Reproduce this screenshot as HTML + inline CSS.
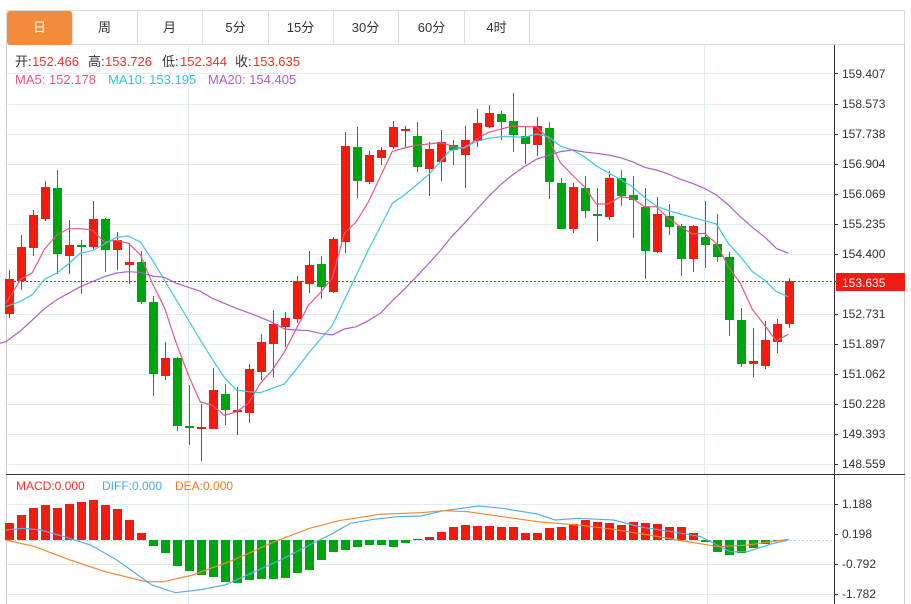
<!DOCTYPE html>
<html><head><meta charset="utf-8"><style>
body{margin:0;background:#fff;width:911px;height:604px;overflow:hidden;font-family:"Liberation Sans","Noto Sans CJK SC",sans-serif}
.tabs{position:absolute;left:6px;top:10px;height:35px;width:899px;border:1px solid #ddd;border-bottom:1px solid #ddd;box-sizing:border-box}
.tab{position:absolute;top:0;height:34px;width:65px;border-right:1px solid #ddd;text-align:center;line-height:34px;font-size:13px;color:#333}
</style></head><body>
<div class="tabs">
<div class="tab" style="left:0;background:#f28c3c;color:#fff;border-radius:3px">日</div>
<div class="tab" style="left:65px">周</div>
<div class="tab" style="left:130px">月</div>
<div class="tab" style="left:196px">5分</div>
<div class="tab" style="left:261px">15分</div>
<div class="tab" style="left:326px">30分</div>
<div class="tab" style="left:392px">60分</div>
<div class="tab" style="left:457px">4时</div>
</div>
<svg id="s" width="911" height="604" style="position:absolute;left:0;top:0" font-family="Liberation Sans, Noto Sans CJK SC, sans-serif">
<g stroke="#e3ecf2" stroke-width="1">
<line x1="6" x2="834" y1="73.5" y2="73.5"/><line x1="6" x2="834" y1="104.5" y2="104.5"/><line x1="6" x2="834" y1="134.5" y2="134.5"/><line x1="6" x2="834" y1="164.5" y2="164.5"/><line x1="6" x2="834" y1="194.5" y2="194.5"/><line x1="6" x2="834" y1="224.5" y2="224.5"/><line x1="6" x2="834" y1="254.5" y2="254.5"/><line x1="6" x2="834" y1="314.5" y2="314.5"/><line x1="6" x2="834" y1="344.5" y2="344.5"/><line x1="6" x2="834" y1="374.5" y2="374.5"/><line x1="6" x2="834" y1="404.5" y2="404.5"/><line x1="6" x2="834" y1="434.5" y2="434.5"/><line x1="6" x2="834" y1="464.5" y2="464.5"/>
<line x1="188.5" x2="188.5" y1="45" y2="474"/><line x1="704.5" x2="704.5" y1="45" y2="474"/>
<line x1="188.5" x2="188.5" y1="475" y2="604"/><line x1="707.5" x2="707.5" y1="475" y2="604"/>
<line x1="6" x2="834" y1="504.5" y2="504.5"/><line x1="6" x2="834" y1="564.5" y2="564.5"/><line x1="6" x2="834" y1="594.5" y2="594.5"/>
</g>
<line x1="6.5" x2="6.5" y1="45" y2="604" stroke="#ccc"/>
<line x1="904.5" x2="904.5" y1="45" y2="604" stroke="#ccc"/>
<line x1="834.5" x2="834.5" y1="45" y2="604" stroke="#333"/>
<line x1="6" x2="905" y1="474.5" y2="474.5" stroke="#333"/>
<g font-size="12" fill="#333">
<text x="842" y="78">159.407</text><text x="842" y="108">158.573</text><text x="842" y="138">157.738</text><text x="842" y="168">156.904</text><text x="842" y="198">156.069</text><text x="842" y="228">155.235</text><text x="842" y="258">154.400</text><text x="842" y="318">152.731</text><text x="842" y="348">151.897</text><text x="842" y="378">151.062</text><text x="842" y="408">150.228</text><text x="842" y="438">149.393</text><text x="842" y="468">148.559</text>
<text x="842" y="508">1.188</text><text x="842" y="538">0.198</text><text x="842" y="568">-0.792</text><text x="842" y="598">-1.782</text>
</g>
<g stroke="#333"><line x1="834" x2="838" y1="73.5" y2="73.5"/><line x1="834" x2="838" y1="104.5" y2="104.5"/><line x1="834" x2="838" y1="134.5" y2="134.5"/><line x1="834" x2="838" y1="164.5" y2="164.5"/><line x1="834" x2="838" y1="194.5" y2="194.5"/><line x1="834" x2="838" y1="224.5" y2="224.5"/><line x1="834" x2="838" y1="254.5" y2="254.5"/><line x1="834" x2="838" y1="314.5" y2="314.5"/><line x1="834" x2="838" y1="344.5" y2="344.5"/><line x1="834" x2="838" y1="374.5" y2="374.5"/><line x1="834" x2="838" y1="404.5" y2="404.5"/><line x1="834" x2="838" y1="434.5" y2="434.5"/><line x1="834" x2="838" y1="464.5" y2="464.5"/><line x1="834" x2="838" y1="504.5" y2="504.5"/><line x1="834" x2="838" y1="534.5" y2="534.5"/><line x1="834" x2="838" y1="564.5" y2="564.5"/><line x1="834" x2="838" y1="594.5" y2="594.5"/></g>
<g font-size="13">
<text y="66" fill="#333"><tspan x="15">开:</tspan><tspan x="32" fill="#f0302a">152.466</tspan><tspan x="88">高:</tspan><tspan x="105" fill="#f0302a">153.726</tspan><tspan x="162">低:</tspan><tspan x="180" fill="#f0302a">152.344</tspan><tspan x="235">收:</tspan><tspan x="253" fill="#f0302a">153.635</tspan></text>
<text y="84" fill="#e8577f"><tspan x="15">MA5: 152.178</tspan><tspan x="108" fill="#35c4dc">MA10: 153.195</tspan><tspan x="208" fill="#b05fc9">MA20: 154.405</tspan></text>
<text y="490" font-size="12" fill="#f0302a"><tspan x="16">MACD:0.000</tspan><tspan x="102" fill="#4aa8ec">DIFF:0.000</tspan><tspan x="175" fill="#f07a22">DEA:0.000</tspan></text>
</g>
<line x1="6" x2="834" y1="281.5" y2="281.5" stroke="#e02020" stroke-dasharray="2,2"/>
<line x1="6" x2="834" y1="540.5" y2="540.5" stroke="#a8d4f0" stroke-dasharray="2,2"/>
<line x1="834" x2="838" y1="281.5" y2="281.5" stroke="#333"/>
<rect x="836" y="273" width="69" height="18" fill="#ee1c14"/>
<text x="842" y="287" font-size="12" fill="#fff">153.635</text>
<g id="c"></g>
<g id="h"></g>
<g fill="none" stroke-width="1.2">
<g transform="translate(0,90) scale(0.33333)">
<polyline vector-effect="non-scaling-stroke" stroke="#e8577f" points="18,640 62,568 97,548 133,478 169,437 205,416 241,416 277,420 313,456 349,451 385,460 421,494 457,580 493,652 529,760 565,855 601,936 637,946 673,976 709,966 745,940 781,880 817,840 853,786 889,716 925,646 961,608 997,564 1033,430 1069,395 1105,336 1141,260 1177,184 1213,174 1249,166 1285,162 1321,158 1350,166"/>
<polyline vector-effect="non-scaling-stroke" stroke="#3cc8e0" points="18,650 62,634 97,614 133,568 169,550 205,522 241,489 277,482 313,462 349,442 385,438 421,456 457,510 493,570 529,630 565,690 601,750 637,808 673,862 709,900 745,905 781,908 817,895 853,882 889,838 925,790 961,748 997,706 1033,630 1069,555 1105,480 1141,410 1177,340 1213,315 1249,285 1285,255 1321,215 1350,182"/>
<polyline vector-effect="non-scaling-stroke" stroke="#b05fc9" points="0,760 18,755 62,722 97,690 133,656 169,630 205,610 241,590 277,575 313,560 349,549 385,545 421,547 457,558 493,562 529,580 565,592 601,604 637,625 673,640 709,655 745,668 781,682 817,697 853,717 889,720 925,722 961,730 997,735 1033,717 1069,710 1105,692 1141,670 1177,632 1213,598 1249,560 1285,522 1321,482 1350,446"/>
</g>
<g transform="translate(450,90) scale(0.33333)">
<polyline vector-effect="non-scaling-stroke" stroke="#e8577f" points="0,170 43,175 79,148 115,127 151,118 187,108 223,110 259,110 295,145 331,218 367,255 403,290 439,342 475,342 511,320 547,325 583,350 619,350 655,385 691,410 727,432 763,430 799,460 835,530 871,580 907,658 943,705 979,753 1015,733"/>
<polyline vector-effect="non-scaling-stroke" stroke="#3cc8e0" points="0,182 43,172 79,155 115,145 151,140 187,140 223,142 259,132 295,140 331,168 367,180 403,200 439,228 475,248 511,268 547,290 583,322 619,348 655,362 691,372 727,382 763,392 799,402 835,460 871,500 907,545 943,570 979,605 1015,620"/>
<polyline vector-effect="non-scaling-stroke" stroke="#b05fc9" points="0,445 43,400 79,360 115,320 151,285 187,255 223,230 259,208 295,196 331,185 367,180 403,186 439,190 475,195 511,203 547,215 583,232 619,240 655,252 691,268 727,280 763,295 799,315 835,345 871,380 907,412 943,440 979,475 1015,490"/>
</g>
<g transform="translate(0,470) scale(0.5841,0.33333)">
<polyline vector-effect="non-scaling-stroke" stroke="#5aaee8" points="10,180 40,175 70,180 110,200 155,225 200,270 260,345 300,368 340,360 385,345 430,310 480,270 530,225 570,190 600,160 640,148 680,140 720,138 760,122 820,108 860,115 920,132 950,150 990,145 1050,150 1100,172 1150,185 1200,200 1250,245 1280,245 1320,222 1350,210"/>
<polyline vector-effect="non-scaling-stroke" stroke="#f08a30" points="10,210 60,230 120,270 180,305 250,335 280,335 330,315 400,270 470,215 530,175 580,152 650,133 720,128 760,122 800,125 860,140 920,155 990,165 1050,178 1100,192 1160,210 1230,230 1280,225 1350,208"/>
</g>
</g>
</svg>
<script>
var d=[["r",279,314,270,318],["r",247,281,235,290],["r",215,248,210,256],["r",187,219,181,221],["g",188,254,170,274],["r",245,256,220,274],["g",245,246,240,294],["r",219,247,201,249],["g",219,250,218,272],["r",240,250,232,270],["r",262,265,243,284],["g",262,302,251,304],["g",302,374,296,396],["r",358,376,342,380],["g",358,426,357,431],["g",426,428,385,445],["r",427,429,404,461],["r",390,429,368,429],["g",394,410,384,425],["r",410,412,387,435],["r",369,413,364,423],["r",342,372,334,380],["r",324,344,310,377],["r",318,327,312,347],["r",281,319,276,323],["r",265,284,251,293],["g",264,287,256,299],["r",239,292,237,293],["r",146,242,132,253],["g",147,181,127,198],["r",155,182,151,184],["r",150,158,147,165],["r",127,147,121,149],["r",129,131,126,148],["g",136,167,122,172],["r",149,169,142,196],["r",142,162,130,181],["g",145,150,140,165],["r",140,155,126,188],["r",123,141,109,147],["r",113,127,105,128],["g",114,122,111,140],["g",121,135,93,152],["g",136,144,127,164],["r",126,145,117,156],["g",128,182,122,199],["g",183,229,178,229],["r",187,229,183,233],["g",188,211,176,218],["g",214,216,188,241],["r",178,217,171,220],["g",178,196,170,206],["g",195,200,176,238],["g",207,251,188,279],["r",214,252,197,253],["g",216,227,204,235],["g",226,259,224,276],["r",226,259,225,272],["g",237,245,201,268],["g",244,257,214,262],["g",257,320,252,336],["g",320,364,308,367],["r",361,364,328,377],["r",340,366,321,369],["r",324,342,319,353],["r",281,324,278,328]];
var m=[523,515,508,505,508,504,502,500,505,509,520,533,546,553,566,571,575,577,582,583,580,579,579,578,573,570,560,552,550,547,545,545,547,543,539,537,532,527,525,526,526,527,527,533,533,528,527,524,520,522,523,525,522,523,524,527,527,533,542,552,555,553,548,544,541,540];
var s="",h="";
d.forEach(function(c,i){var x=9+12*i,col=c[0]=="r"?"#f01c10":"#00a310";
s+='<line x1="'+(x+.5)+'" x2="'+(x+.5)+'" y1="'+c[3]+'" y2="'+c[4]+'" stroke="'+col+'"/>';
s+='<rect x="'+(x-4)+'" y="'+c[1]+'" width="9" height="'+Math.max(2,c[2]-c[1])+'" fill="'+col+'"/>';});
m.forEach(function(v,i){var x=9+12*i-4,z=540;if(v<z)h+='<rect x="'+x+'" y="'+v+'" width="9" height="'+(z-v)+'" fill="#f01c10"/>';else if(v>z)h+='<rect x="'+x+'" y="'+z+'" width="9" height="'+(v-z)+'" fill="#00a310"/>';});
document.getElementById("c").innerHTML=s;document.getElementById("h").innerHTML=h;
</script>
</body></html>
